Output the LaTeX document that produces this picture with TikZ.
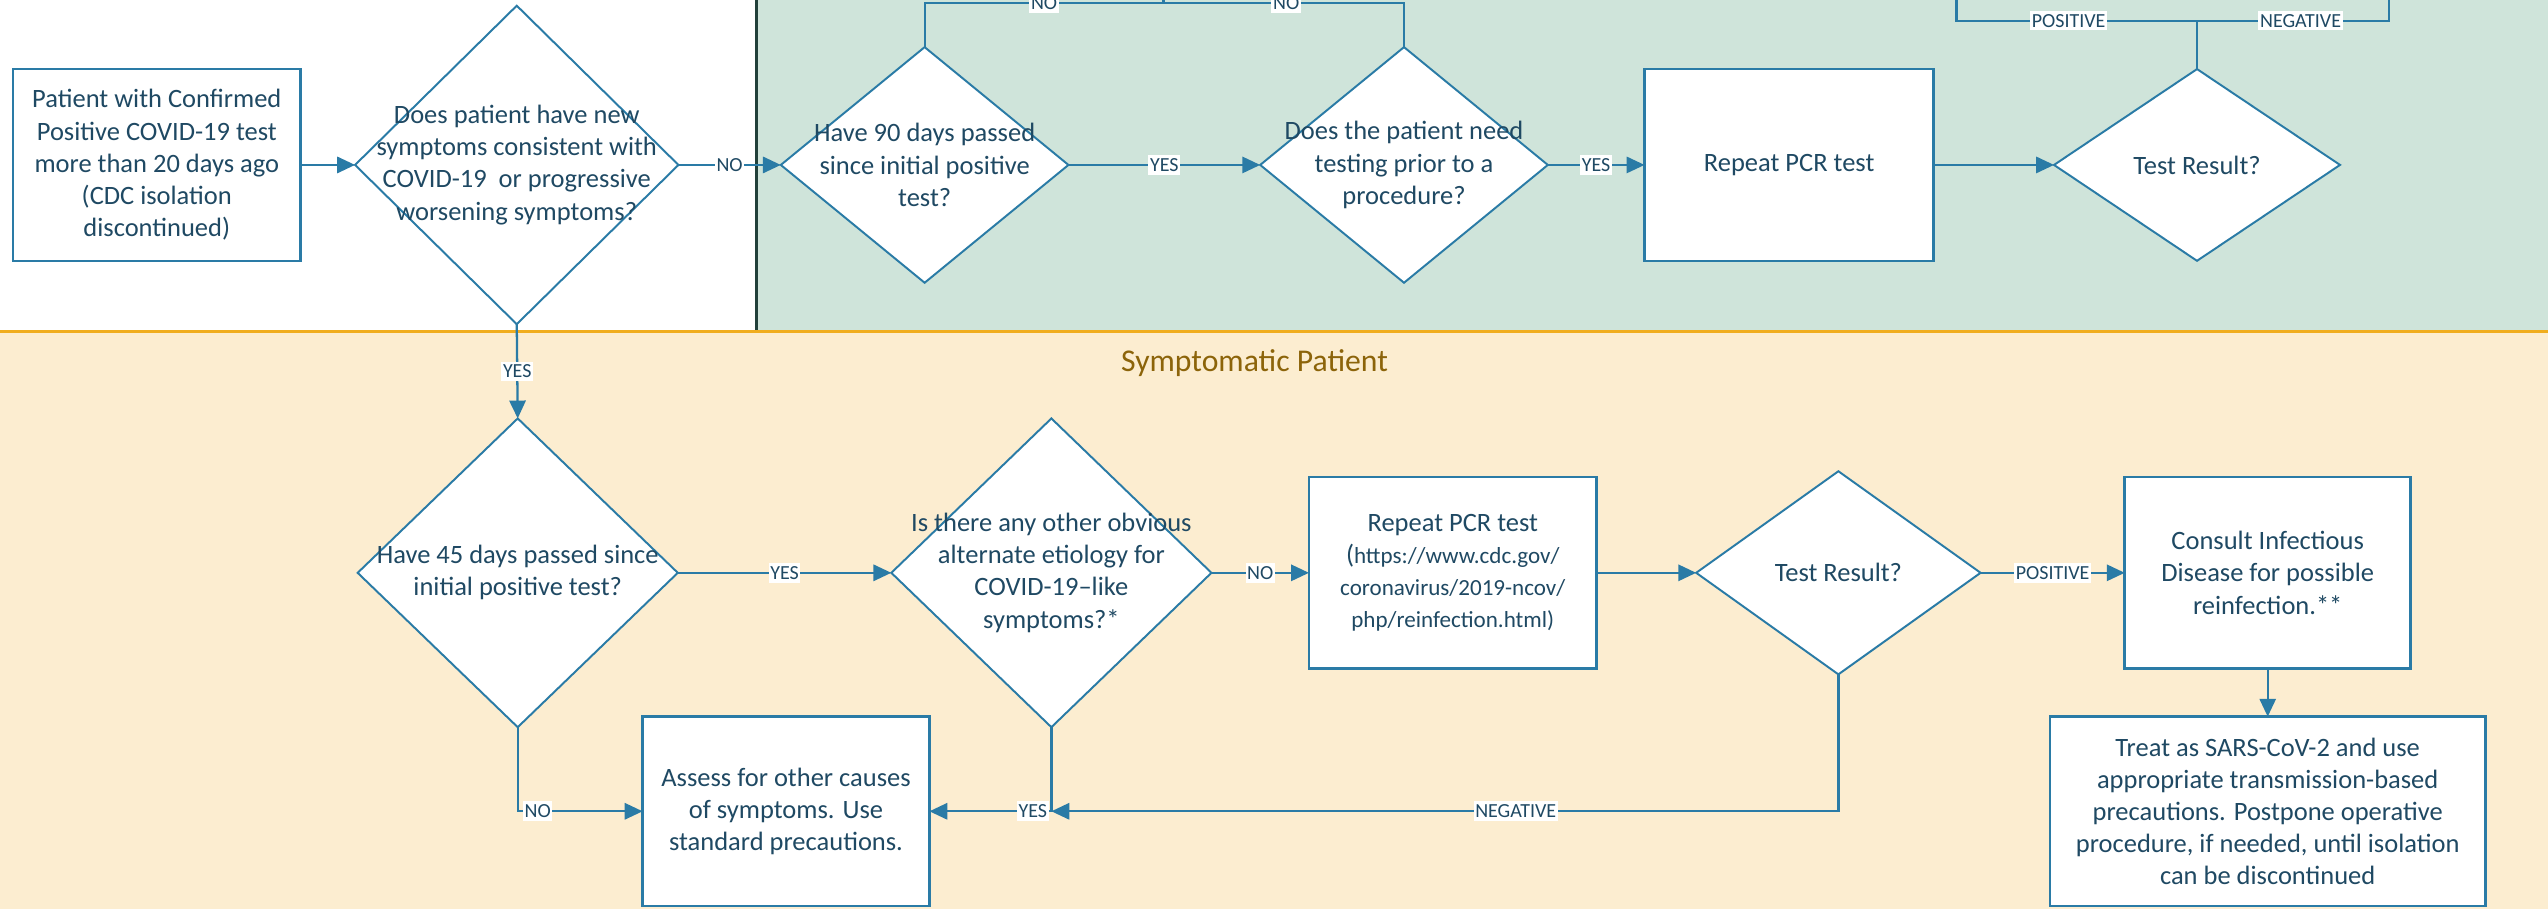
\documentclass[tikz,border=0pt]{standalone}
\usepackage{fontspec}
\setmainfont{Carlito}
\usetikzlibrary{arrows.meta,shapes.geometric}
\definecolor{linec}{HTML}{2A7BA6}
\definecolor{txtc}{HTML}{1F4963}
\definecolor{greenbg}{HTML}{CFE4DA}
\definecolor{peachbg}{HTML}{FCEDD0}
\definecolor{orangel}{HTML}{F0AD1E}
\definecolor{darkl}{HTML}{22403A}
\definecolor{titlec}{HTML}{8C640A}
\begin{document}
\begin{tikzpicture}[x=1pt,y=-1pt,
  box/.style={draw=linec, line width=1.6pt, fill=white, inner sep=0pt, outer sep=0pt, align=center, text=txtc, font=\fontsize{16.3}{19.8}\selectfont},
  dia/.style={diamond, draw=linec, line width=1.2pt, fill=white, inner sep=0pt, outer sep=0pt},
  txt/.style={align=center, text=txtc, font=\fontsize{16.3}{19.8}\selectfont, inner sep=0pt},
  conn/.style={draw=linec, line width=1.4pt, -{Triangle[length=11pt,width=10pt]}},
  plain/.style={draw=linec, line width=1.4pt},
  lbl/.style={fill=white, text=txtc, font=\fontsize{12.3}{14}\selectfont, inner xsep=1pt, inner ysep=2pt}
]
\useasboundingbox (0,0) rectangle (1568,559.4);
\clip (0,0) rectangle (1568,559.4);
% backgrounds
\fill[white] (0,0) rectangle (466,204);
\fill[greenbg] (466,0) rectangle (1568,204);
\fill[peachbg] (0,204) rectangle (1568,559.4);
\draw[darkl, line width=1.5pt] (465.5,0) -- (465.5,204);
\draw[orangel, line width=2pt] (0,204) -- (1568,204);
\node[text=titlec, font=\fontsize{19.5}{22}\selectfont, inner sep=0pt] (title) at (772,223.5) {Symptomatic Patient};

% top row
\node[box, minimum width=177pt, minimum height=118pt] (b1) at (96.5,101.5)
  {Patient with Confirmed\\Positive COVID-19 test\\more than 20 days ago\\(CDC isolation\\discontinued)};
\node[dia, minimum width=199pt, minimum height=196pt] (d1) at (318,101.5) {};
\node[txt] (d1t) at (d1) {Does patient have new\\symptoms consistent with\\COVID-19\ \ or progressive\\worsening symptoms?};
\node[dia, minimum width=177pt, minimum height=145pt] (d2) at (569,101.5) {};
\node[txt] (d2t) at (d2) {Have 90 days passed\\since initial positive\\test?};
\node[dia, minimum width=177pt, minimum height=145pt] (d3) at (864,101.5) {};
\node[txt] (d3t) at (d3) {Does the patient need\\testing prior to a\\procedure?};
\node[box, minimum width=178pt, minimum height=118pt] (p1) at (1101,101.5) {Repeat PCR test};
\node[dia, minimum width=176pt, minimum height=118pt] (t1) at (1352,101.5) {};
\node[txt] (t1t) at (t1) {Test Result?};

% bottom row
\node[dia, minimum width=197pt, minimum height=190pt] (d4) at (318.6,352.5) {};
\node[txt] (d4t) at (d4) {Have 45 days passed since\\initial positive test?};
\node[dia, minimum width=197pt, minimum height=190pt] (d5) at (647,352.5) {};
\node[txt] (d5t) at (d5) {Is there any other obvious\\alternate etiology for\\COVID-19–like\\symptoms?*};
\node[box, minimum width=177pt, minimum height=118pt] (p2) at (894,352.5)
  {Repeat PCR test\\{\fontsize{16.3}{17.6}\selectfont(}{\fontsize{14.2}{17.6}\selectfont https://www.cdc.gov/}\\{\fontsize{14.2}{17.6}\selectfont coronavirus/2019-ncov/}\\{\fontsize{14.2}{17.6}\selectfont php/reinfection.html)}};
\node[dia, minimum width=175pt, minimum height=125pt] (t2) at (1131.3,352.5) {};
\node[txt] (t2t) at (t2) {Test Result?};
\node[box, minimum width=176pt, minimum height=118pt] (c1) at (1395.5,352.5)
  {Consult Infectious\\Disease for possible\\reinfection.**};
\node[box, minimum width=268pt, minimum height=116.5pt] (tr) at (1395.5,499.25)
  {Treat as SARS-CoV-2 and use\\appropriate transmission-based\\precautions. Postpone operative\\procedure, if needed, until isolation\\can be discontinued};
\node[box, minimum width=176.5pt, minimum height=116.5pt] (as) at (483.7,499.25)
  {Assess for other causes\\of symptoms. Use\\standard precautions.};

% coordinates
\coordinate (jno) at (716,2);
\coordinate (jnoup) at (716,-20);
\coordinate (jtr) at (1352,12.7);
\coordinate (pexit) at (1204,-20);
\coordinate (nexit) at (1470,-20);

% top connectors
\draw[conn] (b1.east) -- (d1.west);
\draw[conn] (d1.east) -- node[lbl]{NO} (d2.west);
\draw[conn] (d2.east) -- node[lbl]{YES} (d3.west);
\draw[conn] (d3.east) -- node[lbl]{YES} (p1.west);
\draw[conn] (p1.east) -- (t1.west);
\draw[plain] (d2.north) |- node[lbl, pos=0.75]{NO} (jno);
\draw[plain] (d3.north) |- node[lbl, pos=0.745]{NO} (jno);
\draw[plain] (jno) -- (jnoup);
\draw[plain] (t1.north) -- (jtr);
\draw[plain] (jtr) -| node[lbl, pos=0.267]{POSITIVE} (pexit);
\draw[plain] (jtr) -| node[lbl, pos=0.27]{NEGATIVE} (nexit);

% vertical
\draw[conn] (d1.south) -- node[lbl]{YES} (d4.north);

% bottom connectors
\draw[conn] (d4.east) -- node[lbl]{YES} (d5.west);
\draw[conn] (d5.east) -- node[lbl]{NO} (p2.west);
\draw[conn] (p2.east) -- (t2.west);
\draw[conn] (t2.east) -- node[lbl]{POSITIVE} (c1.west);
\draw[conn] (c1.south) -- (tr.north);
\draw[conn] (d4.south) |- node[lbl, pos=0.58]{NO} (as.west);
\draw[conn] (d5.south) |- node[lbl, pos=0.576]{YES} (as.east);
\draw[conn] (t2.south) |- node[lbl, pos=0.705]{NEGATIVE} (d5.south |- as.east);
\end{tikzpicture}
\end{document}
